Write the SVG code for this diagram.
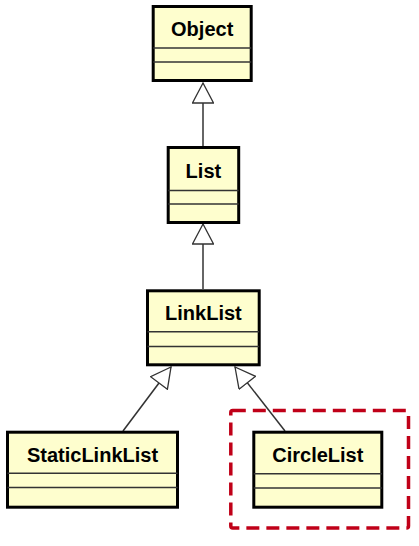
<svg xmlns="http://www.w3.org/2000/svg" width="419" height="546" viewBox="0 0 419 546">
<defs>
<style>
.box{fill:#FEFECE;stroke:#000;stroke-width:3}
.div{stroke:#333;stroke-width:1.5}
.lbl{font-family:"Liberation Sans",Arial,sans-serif;font-weight:bold;font-size:20px;fill:#000;text-anchor:middle}
.edge{stroke:#333;stroke-width:1.5;fill:none}
.hl{fill:none;stroke:#C00018;stroke-width:3.5;stroke-dasharray:13 7}
</style>
<marker id="inh" viewBox="-21 -11 22 22" refX="0" refY="0" markerWidth="22" markerHeight="22" markerUnits="userSpaceOnUse" orient="auto">
<path d="M0,0 L-20,-10.5 L-20,10.5 Z" fill="#fff" stroke="#333" stroke-width="1.3" stroke-linejoin="miter"/>
</marker>
</defs>
<rect width="419" height="546" fill="#fff"/>
<g id="connectors">
<line class="edge" x1="203" y1="146" x2="203" y2="83" marker-end="url(#inh)"/>
<line class="edge" x1="203" y1="289" x2="203" y2="224" marker-end="url(#inh)"/>
<line class="edge" x1="123" y1="431" x2="171" y2="367" marker-end="url(#inh)"/>
<line class="edge" x1="285" y1="431" x2="235" y2="367" marker-end="url(#inh)"/>
</g>
<g id="Object">
<rect class="box" x="153.2" y="6.5" width="98" height="74"/>
<line class="div" x1="153.2" y1="48" x2="251.2" y2="48"/>
<line class="div" x1="153.2" y1="62" x2="251.2" y2="62"/>
<text class="lbl" x="202.2" y="36">Object</text>
</g>
<g id="List">
<rect class="box" x="168.2" y="147.5" width="70.5" height="75"/>
<line class="div" x1="168.2" y1="190.5" x2="238.7" y2="190.5"/>
<line class="div" x1="168.2" y1="204" x2="238.7" y2="204"/>
<text class="lbl" x="203.4" y="177.5">List</text>
</g>
<g id="LinkList">
<rect class="box" x="147.5" y="290.8" width="111.7" height="74"/>
<line class="div" x1="147.5" y1="331.7" x2="259.2" y2="331.7"/>
<line class="div" x1="147.5" y1="346.5" x2="259.2" y2="346.5"/>
<text class="lbl" x="203.4" y="320.3">LinkList</text>
</g>
<g id="StaticLinkList">
<rect class="box" x="7.5" y="432.2" width="170" height="75"/>
<line class="div" x1="7.5" y1="473.3" x2="177.5" y2="473.3"/>
<line class="div" x1="7.5" y1="487.5" x2="177.5" y2="487.5"/>
<text class="lbl" x="92.5" y="461.5">StaticLinkList</text>
</g>
<g id="CircleList">
<rect class="box" x="253.8" y="432.2" width="128" height="75"/>
<line class="div" x1="253.8" y1="473.8" x2="381.8" y2="473.8"/>
<line class="div" x1="253.8" y1="488" x2="381.8" y2="488"/>
<text class="lbl" x="317.8" y="461.5">CircleList</text>
</g>
<rect id="highlight" class="hl" x="230.8" y="410.5" width="177.7" height="117.5" rx="2"/>
</svg>
